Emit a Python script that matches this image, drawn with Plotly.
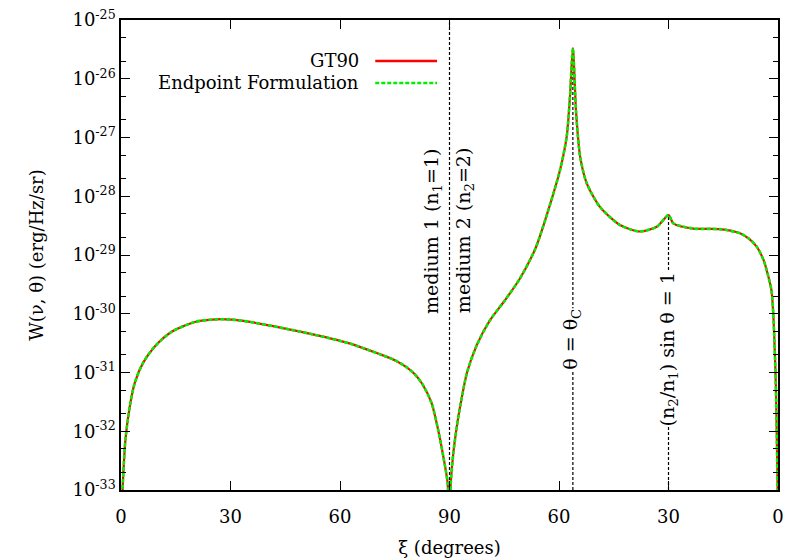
import plotly.graph_objects as go

# ---- data (xi on a 0..180 combined axis; W as log10) ----
xi = [0.0, 0.3, 0.55, 1.2, 2.4, 3.75, 6.0, 9.2, 13.8, 20.2, 26.0, 30.3, 34.9, 44.0,
      53.2, 62.3, 71.4, 75.0, 78.0, 80.5, 82.6, 85.1, 86.9, 88.3, 89.5, 90.0,
      90.3, 91.0, 92.0, 93.0, 94.8, 97.5, 101.1, 105.2, 109.3, 113.6,
      117.5, 120.3, 122.1, 123.0, 123.8, 124.7, 125.8, 127.6, 131.2, 136.7, 142.2,
      146.8, 150.0, 151.3, 156.8, 164.1, 169.6, 172.0, 174.2, 176.0, 176.9, 178.2,
      178.7, 179.1, 179.4, 179.7, 179.95, 180.0]
log10_W = [-34.0, -33.2, -32.83, -32.15, -31.58, -31.18, -30.84, -30.56, -30.31, -30.14,
           -30.095, -30.10, -30.135, -30.24, -30.36, -30.50, -30.70, -30.79, -30.90,
           -31.03, -31.20, -31.52, -31.98, -32.43, -32.89, -34.0,
           -32.94, -32.40, -31.92, -31.55, -31.00, -30.53, -30.11, -29.77, -29.40,
           -28.88, -28.15, -27.55, -26.99, -26.31, -25.48, -26.59,
           -27.33, -27.78, -28.18, -28.49, -28.60, -28.52, -28.32, -28.46, -28.55,
           -28.56, -28.63, -28.72, -28.86, -29.08, -29.26, -29.60, -30.0, -30.6,
           -31.2, -32.2, -33.3, -34.0]
W = [10 ** v for v in log10_W]

x_tickvals = [0, 30, 60, 90, 120, 150, 180]
x_ticktext = ["0", "30", "60", "90", "60", "30", "0"]
y_exponents = [-33, -32, -31, -30, -29, -28, -27, -26, -25]
y_tickvals = [10.0 ** e for e in y_exponents]
y_ticktext = ["10<sup>%d</sup>" % e for e in y_exponents]

# marker lines: (x position, top value of the line)
medium_x, medium_top = 90.0, 1e-25
thetaC_x, thetaC_top = 123.8, 10 ** -25.6
sin1_x, sin1_top = 150.0, 10 ** -28.32
y_bottom = 1e-33

FONT = "DejaVu Serif, Liberation Serif, Times New Roman, serif"
FS = 18
RED = "#ff0000"
GREEN = "#00ee00"

fig = go.Figure()

for lx, top in [(medium_x, medium_top), (thetaC_x, thetaC_top), (sin1_x, sin1_top)]:
    fig.add_trace(go.Scatter(x=[lx, lx], y=[y_bottom, top], mode="lines",
                             line=dict(color="black", width=1.2, dash="3px,2px"),
                             showlegend=False, hoverinfo="skip"))

fig.add_trace(go.Scatter(x=xi, y=W, mode="lines", name="GT90",
                         line=dict(color=RED, width=2.2, shape="spline", smoothing=0.7),
                         showlegend=False))
fig.add_trace(go.Scatter(x=xi, y=W, mode="lines", name="Endpoint Formulation",
                         line=dict(color=GREEN, width=2.6, dash="4px,2px",
                                   shape="spline", smoothing=0.7),
                         showlegend=False))

# labels along the marker lines
labels = [
    ("medium 1 (n<sub>1</sub>=1)", 85.2, 0.551, None),
    ("medium 2 (n<sub>2</sub>=2)", 94.0, 0.551, None),
    ("θ = θ<sub>C</sub>", thetaC_x - 0.6, 0.321, "white"),
    ("(n<sub>2</sub>/n<sub>1</sub>) sin θ = 1", sin1_x, 0.298, "white"),
]
for txt, xx, yy, bg in labels:
    fig.add_annotation(text=txt, x=xx, y=yy, xref="x", yref="paper", textangle=-90,
                       xanchor="center", yanchor="middle",
                       showarrow=False, font=dict(family=FONT, size=19, color="black"),
                       bgcolor=bg if bg else "rgba(0,0,0,0)", borderpad=0)

# gnuplot-style legend (text to the left of the line sample)
legend_items = [("GT90", RED, "solid", 0.9128), ("Endpoint Formulation", GREEN, "4px,2px", 0.866)]
for name, col, dash, yy in legend_items:
    fig.add_annotation(text=name, x=0.366, y=yy, xref="paper", yref="paper",
                       xanchor="right", yanchor="middle", showarrow=False,
                       font=dict(family=FONT, size=FS, color="black"))
    fig.add_shape(type="line", xref="paper", yref="paper", x0=0.387, x1=0.481,
                  y0=yy, y1=yy, line=dict(color=col, width=2.4, dash=dash))

fig.update_layout(
    width=792, height=558,
    margin=dict(l=121, r=14, t=20, b=68),
    paper_bgcolor="white", plot_bgcolor="white",
    font=dict(family=FONT, size=FS, color="black"),
    xaxis=dict(range=[0, 180], tickvals=x_tickvals, ticktext=x_ticktext,
               ticks="inside", ticklen=9, tickwidth=1.2, tickcolor="black",
               showline=True, linecolor="black", linewidth=1.5, mirror="ticks",
               showgrid=False, zeroline=False, automargin=False,
               ticklabelstandoff=10,
               tickfont=dict(family=FONT, size=FS),
               title=dict(text="ξ (degrees)", standoff=16,
                          font=dict(family=FONT, size=FS))),
    yaxis=dict(type="log", range=[-33, -25], tickvals=y_tickvals, ticktext=y_ticktext,
               ticks="inside", ticklen=9, tickwidth=1.2, tickcolor="black",
               showline=True, linecolor="black", linewidth=1.5, mirror="ticks",
               showgrid=False, zeroline=False, automargin=False,
               tickfont=dict(family=FONT, size=FS),
               minor=dict(ticks="inside", ticklen=5, tickwidth=1.1, tickcolor="black",
                          dtick="D2", showgrid=False),
               title=dict(text="W(ν, θ) (erg/Hz/sr)", standoff=24,
                          font=dict(family=FONT, size=FS))),
)

fig.write_html("out.html")
